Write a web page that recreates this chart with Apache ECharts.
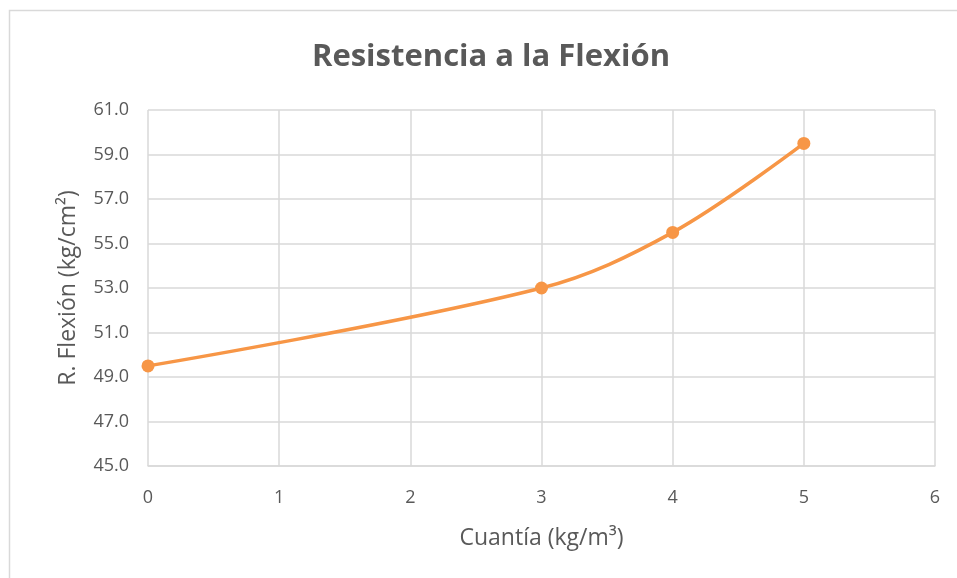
<!DOCTYPE html>
<html>
<head>
<meta charset="utf-8">
<script src="https://cdn.jsdelivr.net/npm/echarts@6/dist/echarts.min.js"></script>
<style>
  html, body { margin: 0; padding: 0; background: #fff; }
  #chart { width: 957px; height: 578px; }
</style>
</head>
<body>
<div id="chart"></div>
<script>
// Flexural strength vs. fibre dosage
const dosage = [0, 3, 4, 5];
const flexion = [49.5, 53.0, 55.5, 59.5];
const titleText = 'Resistencia a la Flexión';
const xName = 'Cuantía (kg/m³)';
const yName = 'R. Flexión (kg/cm²)';

const FONT = 'Open Sans, Lato, sans-serif';
const TXT = '#595959';
const GRID = '#d9d9d9';
const ORANGE = '#f79646';

const chart = echarts.init(document.getElementById('chart'), null, { renderer: 'canvas' });
chart.setOption({
  animation: false,
  backgroundColor: '#fff',
  graphic: [{
    type: 'rect',
    shape: { x: 9.5, y: 10.5, width: 960, height: 600 },
    style: { fill: 'none', stroke: '#d9d9d9', lineWidth: 1.5 },
    silent: true
  }],
  title: {
    text: titleText,
    left: 486, top: 37,
    textAlign: 'center',
    textStyle: { fontFamily: FONT, fontSize: 31, fontWeight: 'bold', color: TXT }
  },
  grid: { left: 148, right: 22, top: 110, bottom: 112 },
  xAxis: {
    type: 'value', min: 0, max: 6, interval: 1,
    name: xName, nameLocation: 'middle', nameGap: 61,
    nameTextStyle: { fontFamily: FONT, fontSize: 23, color: TXT },
    axisLine: { show: true, lineStyle: { color: GRID, width: 1.5 } },
    axisTick: { show: false },
    axisLabel: { fontFamily: FONT, fontSize: 18, color: TXT, margin: 23 },
    splitLine: { show: true, lineStyle: { color: GRID, width: 1.5 } }
  },
  yAxis: {
    type: 'value', min: 45, max: 61, interval: 2,
    name: yName, nameLocation: 'middle', nameGap: 68,
    nameTextStyle: { fontFamily: FONT, fontSize: 23, color: TXT },
    axisLine: { show: false },
    axisTick: { show: false },
    axisLabel: { fontFamily: FONT, fontSize: 18, color: TXT, margin: 19,
                 formatter: v => v.toFixed(1) },
    splitLine: { show: true, lineStyle: { color: GRID, width: 1.5 } }
  },
  series: [{
    type: 'line',
    data: dosage.map((x, i) => [x, flexion[i]]),
    smooth: 0.35,
    symbol: 'circle', symbolSize: 13,
    lineStyle: { color: ORANGE, width: 3.5 },
    itemStyle: { color: ORANGE }
  }]
});
</script>
</body>
</html>
